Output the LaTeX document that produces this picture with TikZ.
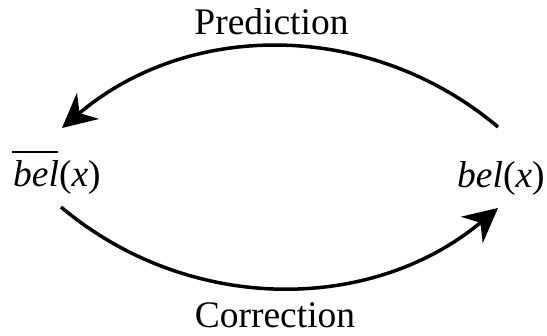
\documentclass[tikz,border=0pt]{standalone}
\usepackage{fontspec}
\setmainfont{Liberation Serif}
\usetikzlibrary{arrows.meta}
\begin{document}
\begin{tikzpicture}[x=1pt,y=-1pt,
  lbl/.style={inner sep=0pt,font=\fontsize{37.5}{40}\selectfont},
  flow/.style={line width=3.5pt,-{Stealth[length=34pt,width=34pt,inset=11pt]}}]
\useasboundingbox (0,0) rectangle (547,336);
\node[lbl,anchor=base west] (belL) at (13,187) {\textit{bel}(\textit{x})};
\node[lbl,anchor=base west] (belR) at (457,188) {\textit{bel}(\textit{x})};
\node[lbl,anchor=base] (pred) at (271.5,35) {Prediction};
\node[lbl,anchor=base] (corr) at (275,328) {Correction};
\coordinate (barA) at ([shift={(-1,-35)}]belL.base west);
\coordinate (barB) at ([shift={(45,-35)}]belL.base west);
\draw[line width=2.5pt] (barA) -- (barB);
\coordinate (rtop) at (498,127);
\coordinate (ltop) at (62,128);
\coordinate (lbot) at (61,207);
\coordinate (rbot) at (498,208);
\draw[flow] (rtop) .. controls (371,20) and (189,20) .. (ltop);
\draw[flow] (lbot) .. controls (188,314) and (371,314) .. (rbot);
\end{tikzpicture}
\end{document}
